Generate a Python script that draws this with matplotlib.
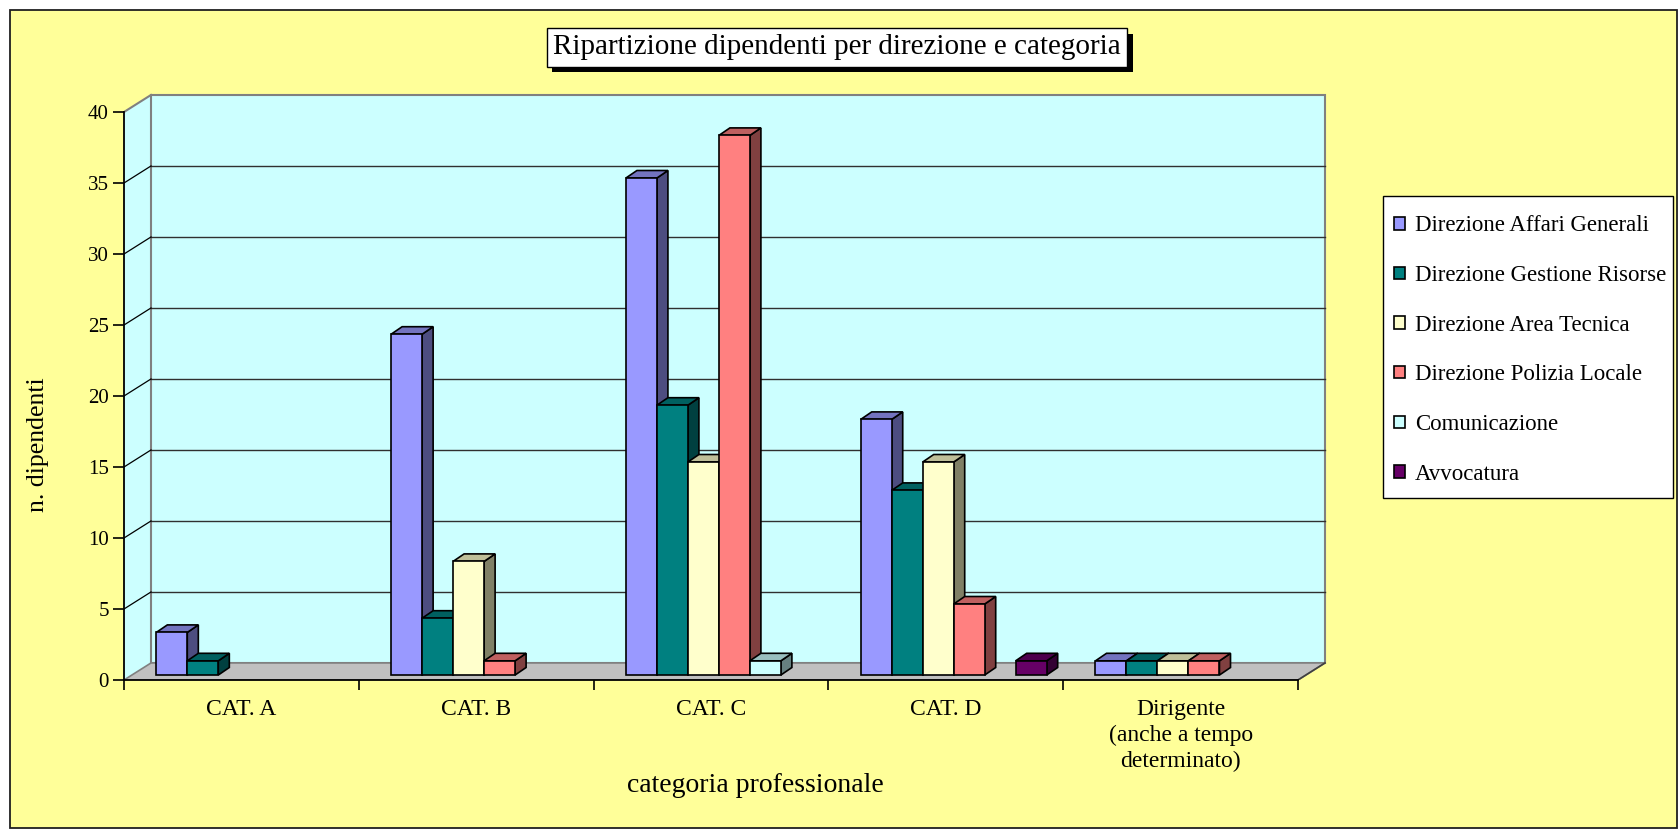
import matplotlib
matplotlib.use("Agg")
import matplotlib.pyplot as plt
import matplotlib.patheffects as pe
from matplotlib.patches import Polygon, Rectangle
from matplotlib.colors import to_rgb
import numpy as np

plt.rcParams["font.family"] = "Liberation Serif"

categorie = ["CAT. A", "CAT. B", "CAT. C", "CAT. D",
             "Dirigente\n(anche a tempo\ndeterminato)"]
direzioni = ["Direzione Affari Generali", "Direzione Gestione Risorse",
             "Direzione Area Tecnica", "Direzione Polizia Locale",
             "Comunicazione", "Avvocatura"]
affari_generali = [3, 24, 35, 18, 1]
gestione_risorse = [1, 4, 19, 13, 1]
area_tecnica = [0, 8, 15, 15, 1]
polizia_locale = [0, 1, 38, 5, 1]
comunicazione = [0, 0, 1, 0, 0]
avvocatura = [0, 0, 0, 1, 0]
serie = [affari_generali, gestione_risorse, area_tecnica,
         polizia_locale, comunicazione, avvocatura]
colori = ["#9999FF", "#008080", "#FFFFCC", "#FF8080", "#CCFFFF", "#660066"]

W, H = 1680, 831
fig = plt.figure(figsize=(W / 100, H / 100), dpi=100, facecolor="white")

# yellow chart area with black frame
fig.patches.append(Rectangle((10 / W, 1 - 828 / H), 1667 / W, 818 / H,
                             transform=fig.transFigure, fc="#FFFF99",
                             ec="#202020", lw=1.3, zorder=-5))

ax = fig.add_axes([124 / W, 1 - 680 / H, 5.2 * 234.8 / W, 42 * 14.2 / H])
ax.set_zorder(1)
ax.set_facecolor("none")
ax.set_xlim(0, 5.2)
ax.set_ylim(0, 42)

n = len(categorie)
ymax = 40
DX, DY = 0.115, 1.2          # depth of the walls
BDX, BDY = 0.047, 0.53       # depth of each column
y0 = 0.35                    # columns stand a little behind the front edge
sx = y0 / DY * DX
w = 0.132

wall = "#CCFFFF"
ax.add_patch(Polygon([(0, 0), (DX, DY), (DX, ymax + DY), (0, ymax)],
                     fc=wall, ec="none", zorder=1))
ax.add_patch(Polygon([(DX, DY), (n + DX, DY), (n + DX, ymax + DY), (DX, ymax + DY)],
                     fc=wall, ec="#808080", lw=1.5, zorder=1))
ax.add_patch(Polygon([(0, 0), (n, 0), (n + DX, DY), (DX, DY)],
                     fc="#C0C0C0", ec="#808080", lw=1.2, zorder=2))
ax.plot([n, n + DX], [0, DY], color="#404040", lw=1.2, zorder=2)
ax.plot([0, DX], [ymax, ymax + DY], color="#808080", lw=1.5, zorder=2)

for v in range(5, ymax, 5):
    ax.plot([DX, n + DX], [v + DY, v + DY], color="#303030", lw=1, zorder=2)
    ax.plot([0, DX], [v, v + DY], color="black", lw=0.9, zorder=2)


def tinta(c, k):
    return tuple(np.array(to_rgb(c)) * k)


for j, (vals, col, nome) in enumerate(zip(serie, colori, direzioni)):
    xs = [i + 0.5 - 3 * w + sx + j * w for i in range(n)]
    xb = [x for x, v in zip(xs, vals) if v > 0]
    hb = [v for v in vals if v > 0]
    z = 10 + 3 * j
    ax.bar(xb, hb, width=w, bottom=y0, align="edge", color=col,
           edgecolor="black", lw=1.2, zorder=z + 2, label=nome)
    for x, h in zip(xb, hb):
        top = y0 + h
        ax.add_patch(Polygon([(x + w, y0), (x + w + BDX, y0 + BDY),
                              (x + w + BDX, top + BDY), (x + w, top)],
                             fc=tinta(col, 0.5), ec="black", lw=1.2, zorder=z))
        ax.add_patch(Polygon([(x, top), (x + BDX, top + BDY),
                              (x + w + BDX, top + BDY), (x + w, top)],
                             fc=tinta(col, 0.75), ec="black", lw=1.2, zorder=z + 1))

for s in ["top", "right"]:
    ax.spines[s].set_visible(False)
ax.spines["left"].set_bounds(0, ymax)
ax.spines["bottom"].set_bounds(0, n)
for s in ["left", "bottom"]:
    ax.spines[s].set_linewidth(1.3)
    ax.spines[s].set_zorder(5)

ax.set_yticks(range(0, ymax + 1, 5))
ax.tick_params(axis="y", direction="out", length=8, width=1.2, pad=3,
               labelsize=15)
ax.set_xticks(range(n + 1))
ax.set_xticklabels([])
ax.set_xticks([i + 0.5 for i in range(n)], minor=True)
ax.set_xticklabels(categorie, minor=True, linespacing=1.28)
ax.tick_params(axis="x", which="major", direction="out", length=7, width=1.2)
ax.tick_params(axis="x", which="minor", length=0, pad=14, labelsize=17)

fig.text(755 / W, 1 - 786 / H, "categoria professionale", fontsize=20,
         ha="center", va="center")
fig.text(38 / W, 1 - 445 / H, "n. dipendenti", fontsize=18.5,
         rotation=90, ha="center", va="center")

titolo = fig.text(837 / W, 1 - 47.5 / H,
                  "Ripartizione dipendenti per direzione e categoria",
                  fontsize=21, ha="center", va="center",
                  bbox=dict(boxstyle="square,pad=0.22", fc="white",
                            ec="black", lw=1))
titolo.get_bbox_patch().set_path_effects(
    [pe.SimplePatchShadow(offset=(4, -4), shadow_rgbFace="black", alpha=1),
     pe.Normal()])

# legend box, then the entries inside it
fig.patches.append(Rectangle((1383 / W, 1 - 498 / H), 290 / W, 302 / H,
                             transform=fig.transFigure, fc="white",
                             ec="black", lw=1, zorder=1))
leg = fig.legend(loc="center left", bbox_to_anchor=(1394 / W, 1 - 350 / H),
                 borderaxespad=0, fontsize=16.5, handlelength=0.47,
                 handleheight=0.47, handletextpad=0.44, labelspacing=1.25,
                 borderpad=0, frameon=False)
leg.set_zorder(2)

fig.savefig("out.png", dpi=100, facecolor="white")
